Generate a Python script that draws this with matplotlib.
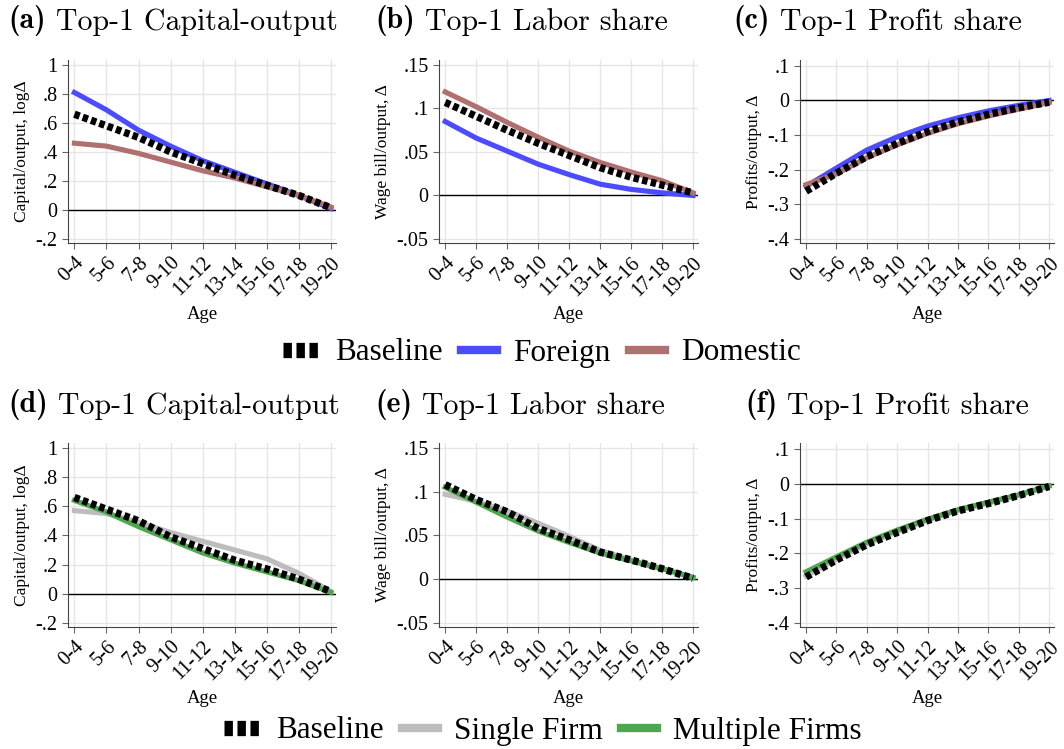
import numpy as np
import matplotlib.pyplot as plt
from matplotlib.lines import Line2D
from matplotlib.ticker import FuncFormatter
import matplotlib.transforms as mtransforms

plt.rcParams.update({
    "font.family": ["Liberation Serif", "DejaVu Serif"],
    "font.size": 12.5,
    "axes.unicode_minus": False,
})

ages = ["0-4", "5-6", "7-8", "9-10", "11-12", "13-14", "15-16", "17-18", "19-20"]

# top row: baseline vs foreign / domestic
ko_base = [0.66, 0.58, 0.50, 0.40, 0.32, 0.24, 0.17, 0.10, 0.015]
ko_foreign = [0.81, 0.69, 0.55, 0.44, 0.34, 0.26, 0.18, 0.10, 0.01]
ko_domestic = [0.46, 0.44, 0.39, 0.33, 0.27, 0.22, 0.16, 0.10, 0.02]

lab_base = [0.107, 0.091, 0.075, 0.060, 0.046, 0.032, 0.021, 0.012, 0.003]
lab_foreign = [0.085, 0.066, 0.051, 0.036, 0.024, 0.013, 0.007, 0.003, 0.0]
lab_domestic = [0.119, 0.102, 0.084, 0.067, 0.051, 0.038, 0.027, 0.017, 0.003]

prof_base = [-0.262, -0.210, -0.162, -0.124, -0.090, -0.062, -0.040, -0.021, -0.005]
prof_foreign = [-0.248, -0.195, -0.143, -0.105, -0.074, -0.050, -0.030, -0.014, 0.0]
prof_domestic = [-0.243, -0.212, -0.165, -0.128, -0.095, -0.067, -0.045, -0.025, -0.006]

# bottom row: baseline vs single / multiple firms
ko_base2 = [0.66, 0.58, 0.50, 0.39, 0.31, 0.23, 0.17, 0.10, 0.015]
ko_single = [0.57, 0.55, 0.49, 0.42, 0.36, 0.30, 0.24, 0.14, 0.015]
ko_multi = [0.64, 0.56, 0.46, 0.37, 0.28, 0.21, 0.15, 0.09, 0.01]

lab_base2 = [0.108, 0.091, 0.077, 0.058, 0.045, 0.031, 0.022, 0.012, 0.001]
lab_single = [0.097, 0.089, 0.078, 0.064, 0.049, 0.033, 0.022, 0.012, 0.002]
lab_multi = [0.105, 0.088, 0.071, 0.055, 0.042, 0.030, 0.021, 0.012, 0.002]

prof_base2 = [-0.268, -0.219, -0.175, -0.140, -0.106, -0.078, -0.057, -0.034, -0.008]
prof_single = [-0.265, -0.217, -0.173, -0.138, -0.105, -0.077, -0.056, -0.033, -0.007]
prof_multi = [-0.253, -0.210, -0.168, -0.133, -0.102, -0.075, -0.053, -0.032, -0.006]

c_foreign = "#4b4bff"
c_domestic = "#b07070"
c_single = "#bdbdbd"
c_multi = "#4ea64e"


def fmt(v, pos):
    if abs(v) < 1e-9:
        return "0"
    s = ("%.2f" % v).rstrip("0").rstrip(".")
    s = s.replace("0.", ".")
    return s


def style_ax(ax, ylabel, ylim, yticks):
    ax.set_xlim(-0.2, 8.16)
    ax.set_ylim(*ylim)
    ax.set_yticks(yticks)
    ax.yaxis.set_major_formatter(FuncFormatter(fmt))
    ax.set_xticks(range(len(ages)))
    ax.set_xticklabels(ages, rotation=45, ha="right", rotation_mode="anchor")
    shift = mtransforms.ScaledTranslation(-3 / 72, 0, fig.dpi_scale_trans)
    for lab in ax.get_xticklabels():
        lab.set_transform(lab.get_transform() + shift)
    ax.tick_params(labelsize=14.5, color="#666666", length=4)
    ax.set_xlabel("Age", fontsize=13.5)
    ax.set_ylabel(ylabel, fontsize=12.5)
    for s in ["top", "right"]:
        ax.spines[s].set_visible(False)
    for s in ["left", "bottom"]:
        ax.spines[s].set_color("#444444")
    ax.grid(True, color="#e6e6e6", linewidth=1)
    ax.set_axisbelow(True)
    ax.axhline(0, color="black", linewidth=1, zorder=2)


def draw(ax, base, s1, s2, c1, c2):
    x = np.arange(len(ages))
    ax.plot(x, s1, color=c1, lw=3.7, zorder=3)
    ax.plot(x, s2, color=c2, lw=3.7, zorder=3)
    ax.plot(x, base, color="black", lw=5.3, dashes=(0.75, 0.45), zorder=4)


fig = plt.figure(figsize=(10.64, 7.49), dpi=100)
lefts = [0.0639, 0.4126, 0.7519]
widths = [0.2519, 0.2434, 0.2387]
rows = [(0.6756, 0.2443), (0.1629, 0.2457)]

specs = [
    ("Capital/output, log\u0394", (-0.228, 1.034), [-0.2, 0, 0.2, 0.4, 0.6, 0.8, 1.0]),
    ("Wage bill/output, \u0394", (-0.0546, 0.1557), [-0.05, 0, 0.05, 0.1, 0.15]),
    ("Profits/output, \u0394", (-0.4116, 0.117), [-0.4, -0.3, -0.2, -0.1, 0, 0.1]),
]

top_data = [(ko_base, ko_foreign, ko_domestic), (lab_base, lab_foreign, lab_domestic),
            (prof_base, prof_foreign, prof_domestic)]
bot_data = [(ko_base2, ko_single, ko_multi), (lab_base2, lab_single, lab_multi),
            (prof_base2, prof_single, prof_multi)]

for i in range(3):
    ax = fig.add_axes([lefts[i], rows[0][0], widths[i], rows[0][1]])
    style_ax(ax, *specs[i])
    b, f, d = top_data[i]
    draw(ax, b, f, d, c_foreign, c_domestic)
    ax = fig.add_axes([lefts[i], rows[1][0], widths[i], rows[1][1]])
    style_ax(ax, *specs[i])
    b, s, m = bot_data[i]
    draw(ax, b, s, m, c_single, c_multi)

titles = [("(a)", "Top-1 Capital-output", 8, 17), ("(b)", "Top-1 Labor share", 375, 17),
          ("(c)", "Top-1 Profit share", 733, 17), ("(d)", "Top-1 Capital-output", 8, 401),
          ("(e)", "Top-1 Labor share", 375, 401), ("(f)", "Top-1 Profit share", 745, 401)]
for lab, t, px, py in titles:
    bt = fig.text(px / 1064, 1 - py / 749, lab, family="cmb10", fontsize=21.5,
                  ha="left", va="center_baseline")
    plt.annotate(" " + t, xy=(1, 0), xycoords=bt, xytext=(0, 0), textcoords="offset points",
                 family="cmr10", fontsize=21.5, ha="left", va="bottom",
                 annotation_clip=False)

h_base = Line2D([], [], color="black", lw=11, dashes=(0.55, 0.3))
leg_kw = dict(ncol=3, frameon=False, fontsize=22.5, handlelength=1.15,
              handletextpad=0.5, columnspacing=0.6, loc="center")
fig.legend([h_base, Line2D([], [], color=c_foreign, lw=6), Line2D([], [], color=c_domestic, lw=6)],
           ["Baseline", "Foreign", "Domestic"], bbox_to_anchor=(542 / 1064, 1 - 353 / 749), **leg_kw)
fig.legend([h_base, Line2D([], [], color=c_single, lw=6), Line2D([], [], color=c_multi, lw=6)],
           ["Baseline", "Single Firm", "Multiple Firms"], bbox_to_anchor=(543 / 1064, 1 - 731 / 749), **leg_kw)

fig.savefig("out.png", dpi=100)
